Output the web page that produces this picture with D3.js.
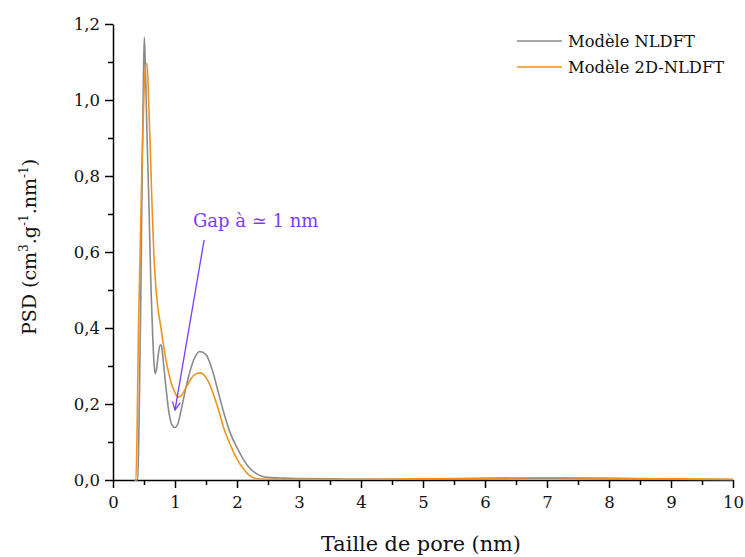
<!DOCTYPE html>
<html><head><meta charset="utf-8">
<script src="https://cdn.jsdelivr.net/npm/d3@7"></script>
<style>body{margin:0;background:#fff}svg{display:block}text{font-family:"DejaVu Serif",serif}</style>
</head><body><svg id="c" width="745" height="557"></svg>
<script>
const xTicks = [0,1,2,3,4,5,6,7,8,9,10];
const yTicks = [0,0.2,0.4,0.6,0.8,1.0,1.2];
const seriesNames = ["Modèle NLDFT","Modèle 2D-NLDFT"];
const nldftX = [0.35,0.40,0.42,0.45,0.47,0.49,0.505,0.52,0.55,0.58,0.61,0.64,0.665,0.68,0.70,0.73,0.76,0.78,0.80,0.85,0.90,0.95,1.0,1.05,1.10,1.2,1.3,1.4,1.5,1.6,1.7,1.8,1.9,2.0,2.1,2.2,2.3,2.4,2.5,2.75,3.0,3.5,4.0,5.0,6.0,7.0,8.0,9.0,10];
const nldftY = [0,0,0.15,0.50,0.80,1.05,1.165,1.10,0.90,0.72,0.52,0.38,0.30,0.28,0.29,0.33,0.355,0.355,0.33,0.25,0.18,0.145,0.138,0.15,0.185,0.26,0.315,0.338,0.33,0.29,0.23,0.17,0.12,0.085,0.055,0.032,0.018,0.01,0.007,0.005,0.004,0.003,0.002,0.002,0.003,0.004,0.003,0.002,0.001];
const nldft2dX = [0.35,0.37,0.39,0.41,0.44,0.47,0.50,0.53,0.55,0.57,0.60,0.63,0.66,0.70,0.73,0.76,0.80,0.85,0.90,0.95,1.0,1.05,1.10,1.2,1.3,1.4,1.5,1.6,1.7,1.8,1.9,2.0,2.1,2.2,2.3,2.5,3,4,5,6,7,8,9,10];
const nldft2dY = [0,0,0.15,0.39,0.62,0.85,1.02,1.095,1.095,1.02,0.88,0.72,0.59,0.49,0.445,0.415,0.37,0.32,0.28,0.25,0.23,0.218,0.222,0.25,0.275,0.282,0.27,0.235,0.185,0.13,0.09,0.055,0.03,0.012,0.004,0.002,0.002,0.002,0.003,0.005,0.006,0.005,0.003,0.002];
const annotation = {text:"Gap à \u2243 1 nm", x0:1.47, y0:0.632, x1:1.0, y1:0.184, tx:1.29, ty:0.666};

const svg = d3.select("#c");
const x = d3.scaleLinear().domain([0,10]).range([113,733]);
const y = d3.scaleLinear().domain([0,1.2]).range([480,24]);
const fmt = d => d3.format(".1f")(d).replace(".",",");

// minor ticks
svg.append("g").attr("transform","translate(0,480)")
  .call(d3.axisBottom(x).tickValues(d3.range(0.5,10,1)).tickSize(5).tickFormat(""))
  .call(g=>g.select(".domain").remove());
svg.append("g").attr("transform","translate(113,0)")
  .call(d3.axisLeft(y).tickValues(d3.range(0.1,1.2,0.2)).tickSize(5).tickFormat(""))
  .call(g=>g.select(".domain").remove());

const gx = svg.append("g").attr("transform","translate(0,480)")
  .call(d3.axisBottom(x).tickValues(xTicks).tickSize(8).tickSizeOuter(0).tickPadding(8).tickFormat(d3.format("d")));
const gy = svg.append("g").attr("transform","translate(113,0)")
  .call(d3.axisLeft(y).tickValues(yTicks).tickSize(8).tickSizeOuter(0).tickPadding(5).tickFormat(fmt));
svg.selectAll(".tick line, .domain").attr("stroke","#000").attr("stroke-width",1.5);
svg.selectAll(".tick text").attr("font-family","DejaVu Serif").attr("font-size",16.5).attr("fill","#111");

const line = d3.line().curve(d3.curveMonotoneX).x(d=>x(d[0])).y(d=>y(d[1]));
const colors = ["#8a8a8a","#f0921f"];
const data = [d3.zip(nldftX,nldftY), d3.zip(nldft2dX,nldft2dY)];
data.forEach((d,i)=>{
  svg.append("path").datum(d).attr("d",line).attr("fill","none").attr("stroke",colors[i]).attr("stroke-width",1.6);
});

// legend
seriesNames.forEach((n,i)=>{
  const yy = 41 + i*26;
  svg.append("line").attr("x1",517).attr("x2",562).attr("y1",yy).attr("y2",yy).attr("stroke",colors[i]).attr("stroke-width",1.6);
  svg.append("text").attr("x",568).attr("y",yy+6).attr("font-size",16.3).attr("fill","#111").text(n);
});

// annotation
const pc = "#7b3cff";
svg.append("text").attr("x",x(annotation.tx)).attr("y",y(annotation.ty)).attr("font-size",18).attr("fill",pc).text(annotation.text);
const ax0=x(annotation.x0), ay0=y(annotation.y0), ax1=x(annotation.x1), ay1=y(annotation.y1);
svg.append("line").attr("x1",ax0).attr("y1",ay0).attr("x2",ax1).attr("y2",ay1).attr("stroke",pc).attr("stroke-width",1.3);
const ang = Math.atan2(ay1-ay0, ax1-ax0);
const hl = 9, ha = 0.45;
svg.append("path").attr("d",`M${ax1-hl*Math.cos(ang-ha)},${ay1-hl*Math.sin(ang-ha)}L${ax1},${ay1}L${ax1-hl*Math.cos(ang+ha)},${ay1-hl*Math.sin(ang+ha)}`)
  .attr("fill","none").attr("stroke",pc).attr("stroke-width",1.3);

// axis titles
svg.append("text").attr("x",421).attr("y",551).attr("text-anchor","middle").attr("font-size",20.8).attr("fill","#111").text("Taille de pore (nm)");
const yl = svg.append("text").attr("transform","translate(36,247) rotate(-90)").attr("text-anchor","middle").attr("font-size",19).attr("fill","#111");
yl.append("tspan").text("PSD (cm");
yl.append("tspan").attr("dy",-8).attr("font-size",12).text("3");
yl.append("tspan").attr("dy",8).text(".g");
yl.append("tspan").attr("dy",-8).attr("font-size",12).text("-1");
yl.append("tspan").attr("dy",8).text(".nm");
yl.append("tspan").attr("dy",-8).attr("font-size",12).text("-1");
yl.append("tspan").attr("dy",8).text(")");
</script></body></html>
